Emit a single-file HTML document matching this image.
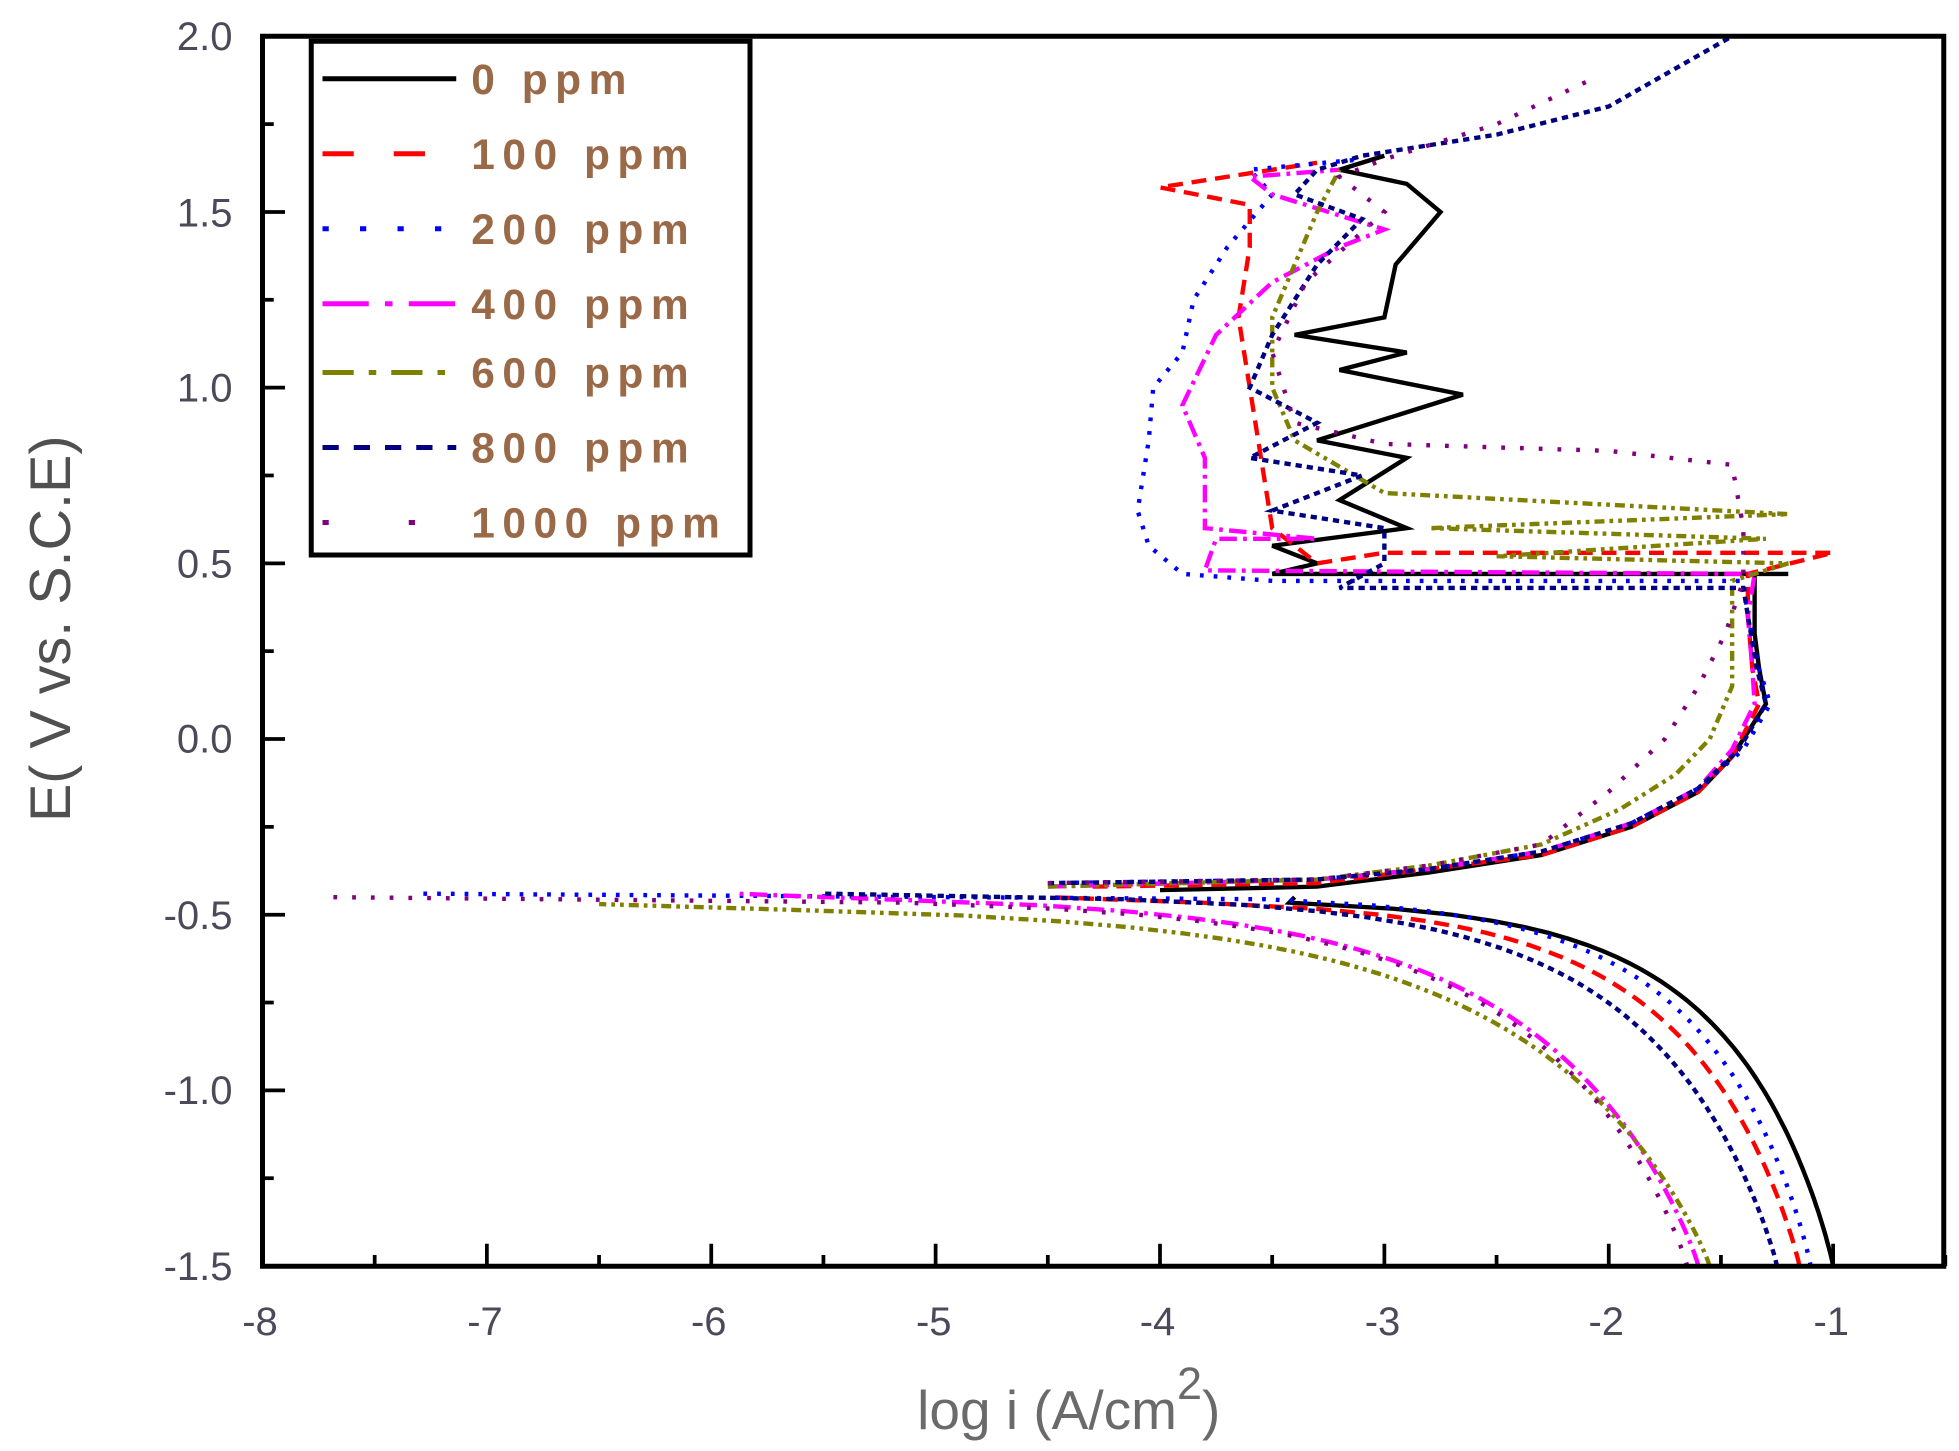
<!DOCTYPE html>
<html><head><meta charset="utf-8"><style>
html,body{margin:0;padding:0;background:#fff;width:1959px;height:1451px;overflow:hidden}
svg{display:block}
text{font-family:"Liberation Sans",sans-serif}
</style></head><body>
<svg id="s" width="1959" height="1451" viewBox="0 0 1567.2 1160.8" xmlns="http://www.w3.org/2000/svg">
<rect x="0" y="0" width="1567.2" height="1160.8" fill="#fff"/>
<g id="curves" fill="none" stroke-width="3.5"></g>
<rect x="210" y="29" width="1345" height="984" fill="none" stroke="#000" stroke-width="4"/>
<g id="ticks" stroke="#000" stroke-width="3"></g>
<g fill="#4a4a5a" font-size="32" text-anchor="end">
<text x="186" y="40">2.0</text><text x="186" y="181">1.5</text><text x="186" y="321">1.0</text>
<text x="186" y="462">0.5</text><text x="186" y="602">0.0</text><text x="186" y="743">-0.5</text>
<text x="186" y="883">-1.0</text><text x="186" y="1024">-1.5</text>
</g>
<g fill="#4a4a5a" font-size="32" text-anchor="middle">
<text x="208" y="1068">-8</text><text x="388" y="1068">-7</text><text x="567" y="1068">-6</text>
<text x="747" y="1068">-5</text><text x="926" y="1068">-4</text><text x="1106" y="1068">-3</text>
<text x="1285" y="1068">-2</text><text x="1465" y="1068">-1</text>
</g>
<text x="855" y="1143" font-size="44" fill="#6a6a6a" text-anchor="middle">log i (A/cm<tspan dy="-24" font-size="36">2</tspan><tspan dy="24">)</tspan></text>
<text transform="translate(56,503) rotate(-90)" font-size="46" fill="#505050" text-anchor="middle">E( V vs. S.C.E)</text>
<rect x="249" y="33" width="351" height="411" fill="#fff" stroke="#000" stroke-width="4"/>
<g stroke-width="4">
<line x1="258" y1="63" x2="365" y2="63" stroke="#000"/>
<line x1="258" y1="123" x2="365" y2="123" stroke="#f00" stroke-dasharray="25,32"/>
<line x1="258" y1="183" x2="365" y2="183" stroke="#00f" stroke-dasharray="5,25"/>
<line x1="258" y1="243" x2="365" y2="243" stroke="#f0f" stroke-dasharray="37,13,6,13"/>
<line x1="258" y1="298" x2="365" y2="298" stroke="#808000" stroke-dasharray="25,12,6,12"/>
<line x1="258" y1="358" x2="365" y2="358" stroke="#000080" stroke-dasharray="13,12"/>
<line x1="258" y1="418" x2="365" y2="418" stroke="#800080" stroke-dasharray="5,64"/>
</g>
<g font-size="34" font-weight="bold" fill="#9a6a48" letter-spacing="6">
<text x="377" y="75">0 ppm</text><text x="377" y="135">100 ppm</text><text x="377" y="195">200 ppm</text>
<text x="377" y="255">400 ppm</text><text x="377" y="310">600 ppm</text><text x="377" y="370">800 ppm</text>
<text x="377" y="430">1000 ppm</text>
</g>
</svg>
<script>
var X=function(v){return 210+(v+8)*179.5}, Y=function(e){return 29+(2-e)*281.1};
var NS="http://www.w3.org/2000/svg";
var tk=document.getElementById('ticks');
function ln(x1,y1,x2,y2){var l=document.createElementNS(NS,'line');l.setAttribute('x1',x1);l.setAttribute('y1',y1);l.setAttribute('x2',x2);l.setAttribute('y2',y2);tk.appendChild(l);}
for(var v=-8;v<=-0.5;v+=0.5){var big=Math.abs(v-Math.round(v))<1e-6;ln(X(v),1013,X(v),1013-(big?18:9));}
for(var e=-1.5;e<=2;e+=0.25){var big=Math.abs(e*2-Math.round(e*2))<1e-6;ln(210,Y(e),210+(big?18:9),Y(e));}
var g=document.getElementById('curves');
function path(pts,col,dash){var d='';pts.forEach(function(p,i){d+=(i?'L':'M')+X(p[0]).toFixed(1)+' '+Y(p[1]).toFixed(1)});
var p=document.createElementNS(NS,'path');p.setAttribute('d',d);p.setAttribute('stroke',col);if(dash)p.setAttribute('stroke-dasharray',dash);g.appendChild(p);}
function cath(xb,s,ec,xleft){var pts=[];for(var i=0;i<=60;i++){var t=i/60*0.985;var E=-1.5+t*(ec+1.5);var L=-Math.log(1-t);pts.push([xb-s*Math.pow(L,1.1),E]);}
pts.push([xleft,ec]);return pts;}
var top=[[-2.5,1.72],[-2,1.8],[-1.5,2.0]];
var S=[
{c:'#000',d:null,cat:cath(-1.0,0.5,-0.45,-3.4),an:[[-4,-0.43],[-3.3,-0.42],[-2.8,-0.38],[-2.3,-0.33],[-1.9,-0.25],[-1.6,-0.15],[-1.45,-0.05],[-1.3,0.1],[-1.33,0.2],[-1.35,0.3],[-1.35,0.47],[-1.2,0.47],[-3.5,0.47],[-3.3,0.5],[-3.5,0.55],[-2.9,0.6],[-3.2,0.68],[-2.9,0.8],[-3.3,0.85],[-2.65,0.98],[-3.2,1.05],[-2.9,1.1],[-3.4,1.15],[-3.0,1.2],[-2.95,1.35],[-2.75,1.5],[-2.9,1.58],[-3.2,1.62],[-3.0,1.66]].concat(top)},
{c:'#f00',d:'12,7',cat:cath(-1.15,0.55,-0.45,-4.5),an:[[-4.3,-0.42],[-3.3,-0.41],[-2.8,-0.37],[-2.3,-0.33],[-1.9,-0.25],[-1.6,-0.15],[-1.45,-0.05],[-1.33,0.1],[-1.36,0.2],[-1.38,0.35],[-1.38,0.47],[-1.0,0.53],[-3.0,0.53],[-3.3,0.5],[-3.5,0.6],[-3.55,0.8],[-3.6,1.0],[-3.65,1.2],[-3.6,1.4],[-3.6,1.52],[-4.0,1.57],[-3.7,1.6],[-3.3,1.64]].concat(top)},
{c:'#00f',d:'3,8',cat:cath(-1.1,0.5,-0.44,-7.3),an:[[-4.5,-0.41],[-3.3,-0.4],[-2.8,-0.37],[-2.3,-0.32],[-1.9,-0.24],[-1.6,-0.14],[-1.4,-0.03],[-1.28,0.1],[-1.33,0.2],[-1.38,0.35],[-1.4,0.45],[-3.5,0.45],[-3.9,0.47],[-4.05,0.55],[-4.1,0.65],[-4.05,0.85],[-4.03,1.0],[-3.9,1.1],[-3.85,1.25],[-3.7,1.4],[-3.5,1.55],[-3.6,1.62],[-3.1,1.65]].concat(top)},
{c:'#f0f',d:'14,5,3,5',cat:cath(-1.6,0.75,-0.44,-5.9),an:[[-4.5,-0.42],[-3.3,-0.4],[-2.8,-0.37],[-2.3,-0.32],[-1.9,-0.24],[-1.6,-0.14],[-1.45,-0.03],[-1.35,0.1],[-1.36,0.2],[-1.38,0.35],[-1.35,0.47],[-3.8,0.48],[-3.75,0.57],[-3.3,0.57],[-3.8,0.6],[-3.8,0.8],[-3.9,0.95],[-3.75,1.15],[-3.5,1.3],[-3.2,1.4],[-3.0,1.45],[-3.5,1.55],[-3.6,1.6],[-3.2,1.62]].concat(top)},
{c:'#808000',d:'8,4,3,4,3,4',cat:cath(-1.55,0.85,-0.47,-6.5),an:[[-4.5,-0.42],[-3.3,-0.4],[-2.8,-0.36],[-2.3,-0.3],[-1.95,-0.2],[-1.7,-0.1],[-1.55,0.0],[-1.45,0.15],[-1.45,0.3],[-1.45,0.45],[-1.2,0.5],[-2.5,0.52],[-1.3,0.57],[-2.8,0.6],[-1.2,0.64],[-3.0,0.7],[-3.4,0.85],[-3.5,1.0],[-3.5,1.2],[-3.4,1.35],[-3.3,1.5],[-3.2,1.62]].concat(top)},
{c:'#000080',d:'5,4',cat:cath(-1.25,0.6,-0.44,-5.5),an:[[-4.5,-0.41],[-3.3,-0.4],[-2.8,-0.37],[-2.3,-0.32],[-1.9,-0.24],[-1.6,-0.14],[-1.42,-0.03],[-1.3,0.1],[-1.34,0.2],[-1.38,0.35],[-1.4,0.43],[-3.2,0.43],[-3.0,0.5],[-3.0,0.6],[-3.5,0.65],[-3.1,0.75],[-3.6,0.8],[-3.3,0.9],[-3.6,1.0],[-3.5,1.15],[-3.3,1.35],[-3.1,1.48],[-3.4,1.55],[-3.3,1.62],[-3.1,1.66],[-2.5,1.72],[-2,1.8],[-1.45,2.0]]},
{c:'#800080',d:'3,12',cat:cath(-1.65,0.72,-0.45,-7.7),an:[[-4.5,-0.41],[-3.3,-0.4],[-2.8,-0.36],[-2.3,-0.3],[-2.0,-0.15],[-1.75,0.0],[-1.6,0.15],[-1.48,0.3],[-1.4,0.45],[-1.4,0.6],[-1.45,0.78],[-2.0,0.82],[-3.0,0.84],[-3.4,0.9],[-3.5,1.1],[-3.35,1.3],[-3.0,1.5],[-3.2,1.6],[-3.0,1.65],[-2.5,1.75],[-2.1,1.87]]}
];
S.forEach(function(s){path(s.cat,s.c,s.d);path(s.an,s.c,s.d);});
</script>
</body></html>
